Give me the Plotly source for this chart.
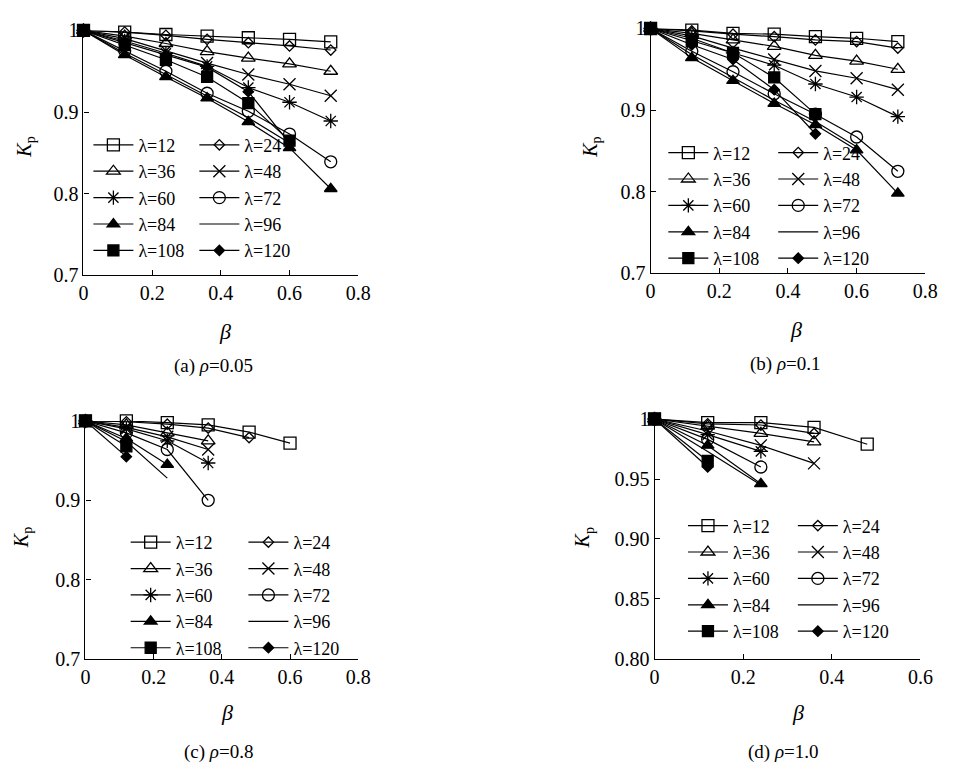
import plotly.graph_objects as go

# ---------------- data ----------------
lambdas = [12, 24, 36, 48, 60, 72, 84, 96, 108, 120]
beta_ab = [0, 0.12, 0.24, 0.36, 0.48, 0.60, 0.72]
beta_c = [0, 0.12, 0.24, 0.36, 0.48, 0.60]
beta_d = [0, 0.12, 0.24, 0.36, 0.48]

kp_a = {
    12: [1, 0.998, 0.995, 0.993, 0.991, 0.989, 0.986],
    24: [1, 0.998, 0.994, 0.989, 0.985, 0.981, 0.976],
    36: [1, 0.993, 0.984, 0.974, 0.966, 0.959, 0.950],
    48: [1, 0.990, 0.975, 0.960, 0.946, 0.934, 0.920],
    60: [1, 0.987, 0.972, 0.956, 0.930, 0.912, 0.889],
    72: [1, 0.975, 0.950, 0.923, 0.901, 0.873, 0.839],
    84: [1, 0.970, 0.943, 0.917, 0.888, 0.856, 0.806],
    96: [1, 0.972, 0.946, 0.920, 0.893, 0.862],
    108: [1, 0.982, 0.964, 0.943, 0.911, 0.865],
    120: [1, 0.985, 0.970, 0.955, 0.925, 0.862],
}
kp_b = {
    12: [1, 0.998, 0.994, 0.993, 0.990, 0.988, 0.984],
    24: [1, 0.997, 0.993, 0.990, 0.986, 0.984, 0.976],
    36: [1, 0.994, 0.986, 0.978, 0.967, 0.960, 0.950],
    48: [1, 0.991, 0.976, 0.962, 0.948, 0.939, 0.925],
    60: [1, 0.988, 0.970, 0.955, 0.932, 0.916, 0.892],
    72: [1, 0.972, 0.947, 0.920, 0.895, 0.867, 0.825],
    84: [1, 0.964, 0.936, 0.908, 0.882, 0.851, 0.798],
    96: [1, 0.968, 0.940, 0.912, 0.886, 0.855],
    108: [1, 0.985, 0.970, 0.940, 0.895],
    120: [1, 0.980, 0.962, 0.925, 0.871],
}
kp_c = {
    12: [1, 1.000, 0.998, 0.995, 0.986, 0.972],
    24: [1, 0.999, 0.996, 0.991, 0.979],
    36: [1, 0.995, 0.985, 0.975],
    48: [1, 0.992, 0.980, 0.964],
    60: [1, 0.990, 0.975, 0.947],
    72: [1, 0.985, 0.964, 0.900],
    84: [1, 0.978, 0.945],
    96: [1, 0.974, 0.928],
    108: [1, 0.968],
    120: [1, 0.955],
}
kp_d = {
    12: [1, 0.997, 0.997, 0.993, 0.979],
    24: [1, 0.996, 0.995, 0.988],
    36: [1, 0.994, 0.988, 0.981],
    48: [1, 0.990, 0.978, 0.963],
    60: [1, 0.987, 0.973],
    72: [1, 0.983, 0.960],
    84: [1, 0.978, 0.946],
    96: [1, 0.973, 0.945],
    108: [1, 0.965],
    120: [1, 0.960],
}

captions = ["(a) <i>ρ</i>=0.05", "(b) <i>ρ</i>=0.1", "(c) <i>ρ</i>=0.8", "(d) <i>ρ</i>=1.0"]

# ---------------- styling ----------------
W, H = 954, 771
FONT = "Liberation Serif"
symbols = {12: "square-open", 24: "diamond-open", 36: "triangle-up-open",
           48: "x-thin-open", 60: "asterisk-open", 72: "circle-open",
           84: "triangle-up", 96: None, 108: "square", 120: "diamond"}
msize = {12: 12, 24: 8, 36: 12, 48: 12, 60: 12, 72: 12,
         84: 11, 96: 0, 108: 11, 120: 8}

def px_x(p):
    return p / W

def px_y(p):
    return 1 - p / H

panels = [
    dict(x=beta_ab, data=kp_a, dom_x=(80, 360), dom_y=(20, 272),
         xr=[0, 0.8], xt=[0, 0.2, 0.4, 0.6, 0.8], xtt=["0", "0.2", "0.4", "0.6", "0.8"],
         yr=[0.7, 1.0], yt=[0.7, 0.8, 0.9, 1.0], ytt=["0.7", "0.8", "0.9", "1"],
         leg=[(85, 119), (193, 119)], kp=(20, 140), beta=(224, 330), cap=(212, 365)),
    dict(x=beta_ab, data=kp_b, dom_x=(658, 938), dom_y=(18, 270),
         xr=[0, 0.8], xt=[0, 0.2, 0.4, 0.6, 0.8], xtt=["0", "0.2", "0.4", "0.6", "0.8"],
         yr=[0.7, 1.0], yt=[0.7, 0.8, 0.9, 1.0], ytt=["0.7", "0.8", "0.9", "1"],
         leg=[(671, 127), (783, 127)], kp=(597, 140), beta=(806, 328), cap=(795, 363)),
    dict(x=beta_c, data=kp_c, dom_x=(82, 360), dom_y=(422, 667),
         xr=[0, 0.8], xt=[0, 0.2, 0.4, 0.6, 0.8], xtt=["0", "0.2", "0.4", "0.6", "0.8"],
         yr=[0.7, 1.0], yt=[0.7, 0.8, 0.9, 1.0], ytt=["0.7", "0.8", "0.9", "1"],
         leg=[(123, 528), (243, 528)], kp=(18, 542), beta=(226, 722), cap=(218, 763)),
    dict(x=beta_d, data=kp_d, dom_x=(662, 933), dom_y=(420, 667),
         xr=[0, 0.6], xt=[0, 0.2, 0.4, 0.6], xtt=["0", "0.2", "0.4", "0.6"],
         yr=[0.8, 1.0], yt=[0.80, 0.85, 0.90, 0.95, 1.0], ytt=["0.80", "0.85", "0.90", "0.95", "1"],
         leg=[(691, 511), (803, 511)], kp=(590, 542), beta=(808, 722), cap=(793, 763)),
]

fig = go.Figure()
annotations = []
layout_extra = {}

for i, p in enumerate(panels):
    ax = "" if i == 0 else str(i + 1)
    xa, ya = "x" + ax, "y" + ax
    leg1 = "legend" if i == 0 else f"legend{2 * i + 1}"
    leg2 = f"legend{2 * i + 2}"
    for j, lam in enumerate(lambdas):
        ys = p["data"][lam]
        xs = p["x"][:len(ys)]
        sym = symbols[lam]
        kw = dict(x=xs, y=ys, xaxis=xa, yaxis=ya, name="λ=" + str(lam),
                  line=dict(color="black", width=1.2), cliponaxis=False,
                  legend=leg1 if j % 2 == 0 else leg2)
        if sym is None:
            kw["mode"] = "lines"
        else:
            kw["mode"] = "lines+markers"
            kw["marker"] = dict(symbol=sym, size=msize[lam], color="black",
                                line=dict(color="black", width=1.3))
        fig.add_trace(go.Scatter(**kw))

    axis_common = dict(showline=True, linecolor="black", linewidth=1.2,
                       ticks="inside", ticklen=5, tickcolor="black",
                       showgrid=False, zeroline=False,
                       tickfont=dict(family=FONT, size=20, color="black"))
    layout_extra["xaxis" + ax] = dict(
        domain=[px_x(p["dom_x"][0]), px_x(p["dom_x"][1])], range=p["xr"],
        tickvals=p["xt"], ticktext=p["xtt"], anchor=ya, **axis_common)
    layout_extra["yaxis" + ax] = dict(
        domain=[px_y(p["dom_y"][1]), px_y(p["dom_y"][0])], range=p["yr"],
        tickvals=p["yt"], ticktext=p["ytt"], anchor=xa, **axis_common)

    for k, (lx, ly) in enumerate(p["leg"]):
        key = leg1 if k == 0 else leg2
        layout_extra[key] = dict(x=px_x(lx), y=px_y(ly), xanchor="left", yanchor="top",
                                 bgcolor="rgba(0,0,0,0)", borderwidth=0,
                                 tracegroupgap=0, itemwidth=40,
                                 font=dict(family=FONT, size=18, color="black"))

    annotations.append(dict(text="<i>K</i><sub>p</sub>", x=px_x(p["kp"][0]), y=px_y(p["kp"][1]),
                            xref="paper", yref="paper", showarrow=False, textangle=-90,
                            xanchor="center", yanchor="middle",
                            font=dict(family=FONT, size=20, color="black")))
    annotations.append(dict(text="<i>β</i>", x=px_x(p["beta"][0]), y=px_y(p["beta"][1]),
                            xref="paper", yref="paper", showarrow=False,
                            xanchor="center", yanchor="middle",
                            font=dict(family=FONT, size=22, color="black")))
    annotations.append(dict(text=captions[i], x=px_x(p["cap"][0]), y=px_y(p["cap"][1]),
                            xref="paper", yref="paper", showarrow=False,
                            xanchor="center", yanchor="middle",
                            font=dict(family=FONT, size=19, color="black")))

fig.update_layout(width=W, height=H, margin=dict(l=0, r=0, t=0, b=0),
                  paper_bgcolor="white", plot_bgcolor="white",
                  showlegend=True, annotations=annotations, **layout_extra)

fig.write_html("out.html")
